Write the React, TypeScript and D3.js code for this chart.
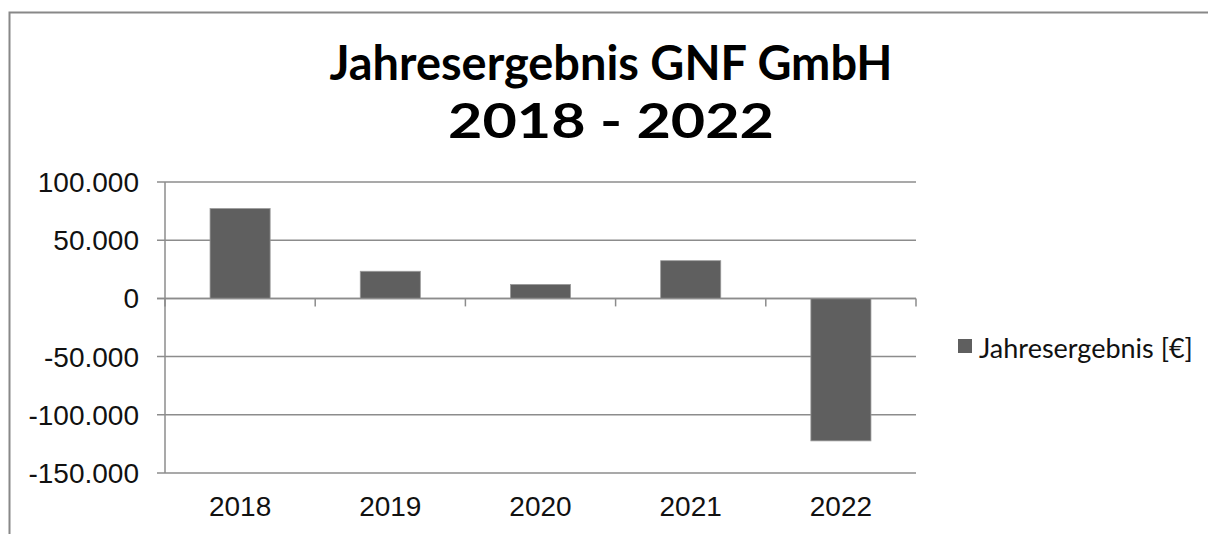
import React, {useEffect, useRef} from 'react';
import * as d3 from "d3";

// data
const years = ["2018", "2019", "2020", "2021", "2022"];
const results = [77200, 23300, 12000, 32400, -122400];
const yTicks = [100000, 50000, 0, -50000, -100000, -150000];
const titleLines = ["Jahresergebnis GNF GmbH", "2018 - 2022"];
const legendLabel = "Jahresergebnis [€]";

const W = 1208, H = 534;
const barColor = "#5f5f5f";
const gridColor = "#8c8c8c";
const axisFont = "'Liberation Sans', Arial, sans-serif";
const titleFont = "Lato, 'Liberation Sans', sans-serif";
const titleWidths = [563, 326];

const fmt = (v: number) => v === 0 ? "0" : d3.format(",")(v).replace(/,/g, ".").replace("−", "-");

const App = () => {
    const ref = useRef<SVGSVGElement | null>(null);

    useEffect(() => {
        const svg = d3.select(ref.current);
        svg.selectAll("*").remove();

        const margin = {top: 182, right: 292, bottom: 61, left: 165};

        // outer frame (clipped on right and bottom like the screenshot)
        svg.append("rect")
            .attr("x", 9.5).attr("y", 12.5)
            .attr("width", W + 20).attr("height", H + 20)
            .attr("fill", "white")
            .attr("stroke", "#888").attr("stroke-width", 2);

        // title, fitted to the widths seen in the reference
        svg.selectAll("text.title")
            .data(titleLines)
            .join("text")
            .attr("class", "title")
            .attr("x", 611)
            .attr("y", (d, i) => 80 + i * 58)
            .attr("text-anchor", "middle")
            .attr("font-family", titleFont)
            .attr("font-weight", "bold")
            .attr("font-size", 47)
            .attr("textLength", (d, i) => titleWidths[i])
            .attr("lengthAdjust", "spacingAndGlyphs")
            .text(d => d);

        const x = d3.scaleBand()
            .domain(years)
            .range([margin.left, W - margin.right])
            .paddingInner(0.6)
            .paddingOuter(0.3);

        const y = d3.scaleLinear()
            .domain([-150000, 100000])
            .range([H - margin.bottom, margin.top]);

        const g = svg.append("g");

        // gridlines + y ticks
        g.selectAll("line.grid")
            .data(yTicks)
            .join("line")
            .attr("class", "grid")
            .attr("x1", margin.left - 8)
            .attr("x2", W - margin.right)
            .attr("y1", d => y(d))
            .attr("y2", d => y(d))
            .attr("stroke", gridColor)
            .attr("stroke-width", 1.5);

        // y axis line
        g.append("line")
            .attr("x1", margin.left).attr("x2", margin.left)
            .attr("y1", y(100000)).attr("y2", y(-150000))
            .attr("stroke", gridColor).attr("stroke-width", 1.5);

        // y labels
        g.selectAll("text.ylab")
            .data(yTicks)
            .join("text")
            .attr("class", "ylab")
            .attr("x", 139)
            .attr("y", d => y(d))
            .attr("dy", "0.36em")
            .attr("text-anchor", "end")
            .attr("font-family", axisFont)
            .attr("font-size", 28)
            .attr("fill", "#111")
            .text(d => fmt(d));

        // bars
        g.selectAll("rect.bar")
            .data(results)
            .join("rect")
            .attr("class", "bar")
            .attr("x", (d, i) => x(years[i])!)
            .attr("width", x.bandwidth())
            .attr("y", d => y(Math.max(0, d)))
            .attr("height", d => Math.abs(y(d) - y(0)))
            .attr("fill", barColor)
            .attr("stroke", "#9a9a9a")
            .attr("stroke-width", 0.8);

        // x axis at zero with category separators
        const seps = d3.range(years.length + 1).map(i => margin.left + i * x.step());
        g.selectAll("line.sep")
            .data(seps)
            .join("line")
            .attr("class", "sep")
            .attr("x1", d => d).attr("x2", d => d)
            .attr("y1", y(0)).attr("y2", y(0) + 8)
            .attr("stroke", gridColor).attr("stroke-width", 1.5);
        g.append("line")
            .attr("x1", margin.left - 8).attr("x2", W - margin.right)
            .attr("y1", y(0)).attr("y2", y(0))
            .attr("stroke", gridColor).attr("stroke-width", 1.5);

        // x labels at bottom
        g.selectAll("text.xlab")
            .data(years)
            .join("text")
            .attr("class", "xlab")
            .attr("x", d => x(d)! + x.bandwidth() / 2)
            .attr("y", 516)
            .attr("text-anchor", "middle")
            .attr("font-family", axisFont)
            .attr("font-size", 28)
            .attr("fill", "#111")
            .text(d => d);

        // legend
        const leg = svg.append("g").attr("transform", "translate(958,339)");
        leg.append("rect")
            .attr("width", 14).attr("height", 14)
            .attr("fill", barColor);
        leg.append("text")
            .attr("x", 21).attr("y", 19)
            .attr("font-family", titleFont)
            .attr("font-size", 27)
            .attr("fill", "#111")
            .text(legendLabel);
    }, []);

    return (
        <svg ref={ref} width={W} height={H}
             style={{position: "absolute", left: 0, top: 0, background: "white"}}/>
    );
};

export default App;
